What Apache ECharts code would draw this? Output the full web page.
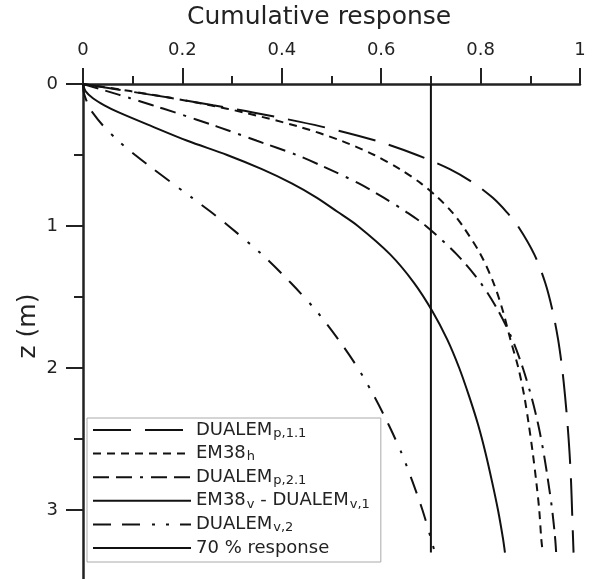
<!DOCTYPE html>
<html><head><meta charset="utf-8">
<script src="https://cdn.jsdelivr.net/npm/echarts@6/dist/echarts.min.js"></script>
<style>html,body{margin:0;padding:0;background:#fff}#c{width:592px;height:579px}</style>
</head><body><div id="c"></div>
<script>
// depth z (m)
const depth = [0,0.05,0.1,0.15,0.2,0.3,0.4,0.5,0.6,0.7,0.8,0.9,1.0,1.2,1.4,1.6,1.8,2.0,2.2,2.4,2.6,2.8,3.0,3.2,3.3];
// cumulative response per sensor
const dualemP11 = [0,0.09,0.18,0.262,0.342,0.48,0.59,0.672,0.738,0.787,0.824,0.852,0.875,0.908,0.93,0.945,0.956,0.964,0.970,0.975,0.979,0.982,0.984,0.986,0.987];
const em38h     = [0,0.095,0.18,0.256,0.323,0.434,0.52,0.586,0.638,0.68,0.714,0.742,0.764,0.8,0.826,0.845,0.86,0.876,0.888,0.897,0.905,0.912,0.918,0.922,0.925];
const dualemP21 = [0,0.048,0.095,0.14,0.185,0.27,0.35,0.43,0.495,0.555,0.605,0.65,0.69,0.752,0.80,0.836,0.864,0.885,0.902,0.916,0.927,0.936,0.944,0.95,0.952];
const em38v     = [0,0.005,0.02,0.043,0.072,0.14,0.21,0.29,0.36,0.42,0.47,0.512,0.553,0.618,0.666,0.703,0.733,0.757,0.777,0.795,0.81,0.823,0.835,0.845,0.849];
const dualemV2  = [0,0.001,0.005,0.011,0.019,0.042,0.071,0.105,0.142,0.18,0.219,0.257,0.293,0.36,0.418,0.47,0.514,0.553,0.586,0.615,0.641,0.663,0.683,0.70,0.708];
const responseX = [0.7, 0.7];
const responseZ = [0, 3.3];
const xTicks = [0, 0.2, 0.4, 0.6, 0.8, 1];
const zTicks = [0, 1, 2, 3];

const names = ['DUALEMp,1.1','EM38h','DUALEMp,2.1','EM38v - DUALEMv,1','DUALEMv,2','70 % response'];
const richLabels = {
  'DUALEMp,1.1': '{m|DUALEM}{s|p,1.1}',
  'EM38h': '{m|EM38}{s|h}',
  'DUALEMp,2.1': '{m|DUALEM}{s|p,2.1}',
  'EM38v - DUALEMv,1': '{m|EM38}{s|v}{m| - DUALEM}{s|v,1}',
  'DUALEMv,2': '{m|DUALEM}{s|v,2}',
  '70 % response': '{m|70 % response}'
};
const FONT = 'DejaVu Sans';
const INK = '#222';
const LINE = '#111';

function pairs(xs, zs){ return xs.map((v,i)=>[v, zs[i]]); }
const seriesValues = [dualemP11, em38h, dualemP21, em38v, dualemV2];
const dashes = [[38,14],[8,6],[16,7,16,8,3,8],'solid',[18,11,18,12,3,11,3,11]];

const series = seriesValues.map((vals,i)=>({
  name: names[i], type:'line', symbol:'none', smooth:0.3,
  data: pairs(vals, depth),
  lineStyle:{color:LINE, width:2, type:dashes[i]}, itemStyle:{color:LINE}
}));
series.push({name:names[5], type:'line', symbol:'none', data: pairs(responseX, responseZ),
  lineStyle:{color:LINE, width:2, type:'solid'}, itemStyle:{color:LINE}});

const chart = echarts.init(document.getElementById('c'), null, {renderer:'canvas'});
chart.setOption({
  animation:false,
  backgroundColor:'#fff',
  title:{text:'Cumulative response', left:187, top:5, padding:0,
    textStyle:{fontSize:25, fontWeight:'normal', color:INK, fontFamily:FONT}},
  graphic:[{type:'text', x:28, y:326, rotation:Math.PI/2,
    style:{text:'z (m)', fontSize:25, fontFamily:FONT, fill:INK, align:'center', verticalAlign:'middle'}}],
  grid:{left:83, top:84, width:497, height:568, outerBoundsMode:'none', containLabel:false},
  xAxis:{type:'value', position:'top', min:xTicks[0], max:xTicks[xTicks.length-1], interval:0.2,
    axisLine:{show:true, onZero:false, lineStyle:{color:INK, width:2.5}},
    axisTick:{show:true, length:16, lineStyle:{color:INK, width:2}},
    minorTick:{show:true, splitNumber:2, length:8, lineStyle:{color:INK, width:2}},
    splitLine:{show:false}, minorSplitLine:{show:false},
    axisLabel:{margin:25, fontSize:18, color:INK, fontFamily:FONT}},
  yAxis:{type:'value', inverse:true, min:zTicks[0], max:4, interval:1,
    axisLine:{show:true, onZero:false, lineStyle:{color:INK, width:2.5}},
    axisTick:{show:true, length:17, lineStyle:{color:INK, width:2}},
    minorTick:{show:true, splitNumber:2, length:9, lineStyle:{color:INK, width:2}},
    splitLine:{show:false}, minorSplitLine:{show:false},
    axisLabel:{margin:25, fontSize:18, color:INK, fontFamily:FONT}},
  legend:{orient:'vertical', left:87, top:418, padding:[3,11,5,5], itemGap:4.6,
    itemWidth:98, itemHeight:14, selectedMode:false,
    itemStyle:{opacity:0, borderWidth:0},
    backgroundColor:'#fff', borderColor:'#aaa', borderWidth:1, borderRadius:0,
    data:names,
    formatter: n => richLabels[n],
    textStyle:{fontFamily:FONT, color:INK,
      rich:{m:{fontSize:18, lineHeight:20, fontFamily:FONT, color:INK},
            s:{fontSize:13, lineHeight:13, verticalAlign:'bottom', padding:[0,0,0,1], fontFamily:FONT, color:INK}}}},
  series: series
});
</script></body></html>
